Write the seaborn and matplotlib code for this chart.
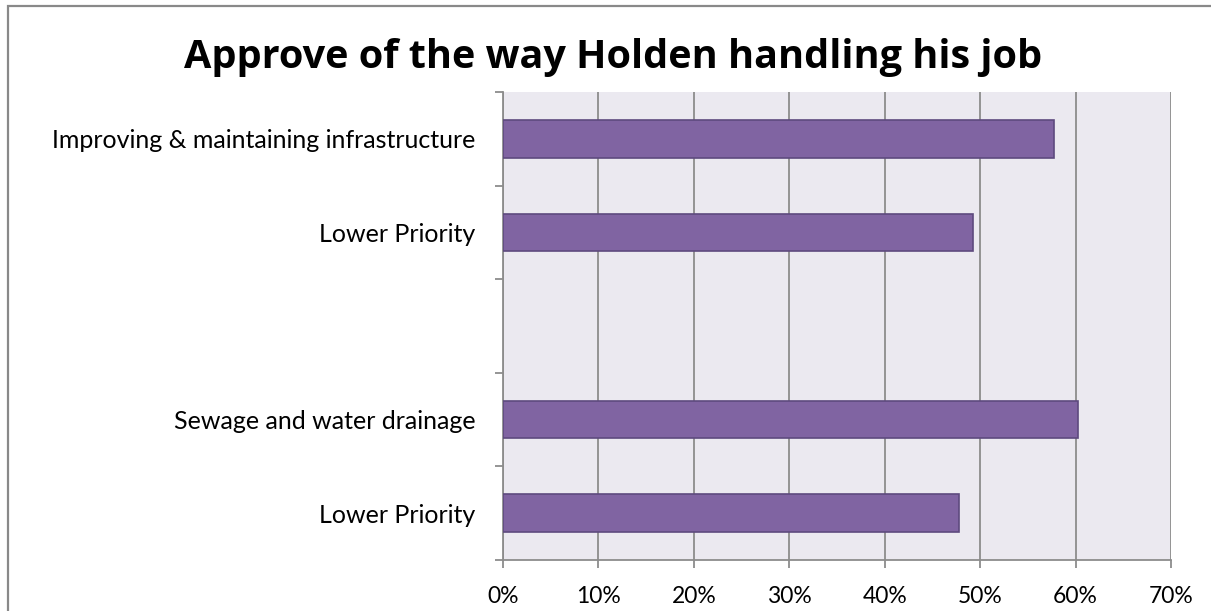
import matplotlib
matplotlib.use("Agg")
import matplotlib.pyplot as plt
import seaborn as sns
import pandas as pd
from matplotlib.patches import Rectangle
from matplotlib.ticker import FuncFormatter, FixedLocator

categories = ["Improving & maintaining infrastructure", "Lower Priority",
              "Sewage and water drainage", "Lower Priority "]
values = [57.7, 49.3, 60.3, 47.8]
slot_order = ["Improving & maintaining infrastructure", "Lower Priority", "",
              "Sewage and water drainage", "Lower Priority "]
slot_labels = ["Improving & maintaining infrastructure", "Lower Priority", "",
               "Sewage and water drainage", "Lower Priority"]
x_ticks = [0, 10, 20, 30, 40, 50, 60, 70]
title = "Approve of the way Holden handling his job"

df = pd.DataFrame({"category": categories, "value": values})

sns.set_theme(style="white")
plt.rcParams["font.family"] = ["Lato", "DejaVu Sans"]

fig = plt.figure(figsize=(12.11, 6.11), dpi=100)
W, H = 1211, 611
ax = fig.add_axes([503 / W, 1 - 560 / H, (1171 - 503) / W, (560 - 92) / H])
ax.set_facecolor("#EBE9F0")

sns.barplot(data=df, x="value", y="category", order=slot_order, ax=ax,
            color="#8064A2", saturation=1, width=0.4,
            edgecolor="#5E4A7E", linewidth=1.2, zorder=3)

ax.set_xlim(0, 70)
ax.set_ylim(4.5, -0.5)
ax.set_xticks(x_ticks)
ax.xaxis.set_major_formatter(FuncFormatter(lambda v, p: f"{int(v)}%"))
ax.grid(axis="x", color="#8C8C8C", linewidth=1.3, zorder=0)
ax.set_axisbelow(True)

ax.yaxis.set_major_locator(FixedLocator([-0.5, 0.5, 1.5, 2.5, 3.5, 4.5]))
ax.set_yticklabels([""] * 6)
ax.yaxis.set_minor_locator(FixedLocator([0, 1, 2, 3, 4]))
ax.set_yticklabels(slot_labels, minor=True)
ax.tick_params(axis="y", which="major", length=6, width=1.3, color="#8C8C8C", left=True)
ax.tick_params(axis="y", which="minor", length=0, pad=20, labelsize=18, labelcolor="black")
ax.tick_params(axis="x", which="major", length=6, width=1.3, color="#8C8C8C",
               bottom=True, labelsize=16.5, labelcolor="black", pad=13)

ax.set_xlabel("")
ax.set_ylabel("")
for side in ["top", "right"]:
    ax.spines[side].set_visible(False)
for side in ["left", "bottom"]:
    ax.spines[side].set_visible(True)
    ax.spines[side].set_color("#8C8C8C")
    ax.spines[side].set_linewidth(1.3)

fig.text(613.5 / W, 1 - 68 / H, title, ha="center", va="baseline",
         fontsize=28.5, fontweight="bold", color="black", family=["Open Sans", "DejaVu Sans"])

fig.patches.append(Rectangle((8 / W, -0.1), 1.2, 1.1 - 5.5 / H,
                             transform=fig.transFigure, fill=False,
                             edgecolor="#898989", linewidth=1.6))

fig.savefig("out.png", dpi=100, facecolor="white")
